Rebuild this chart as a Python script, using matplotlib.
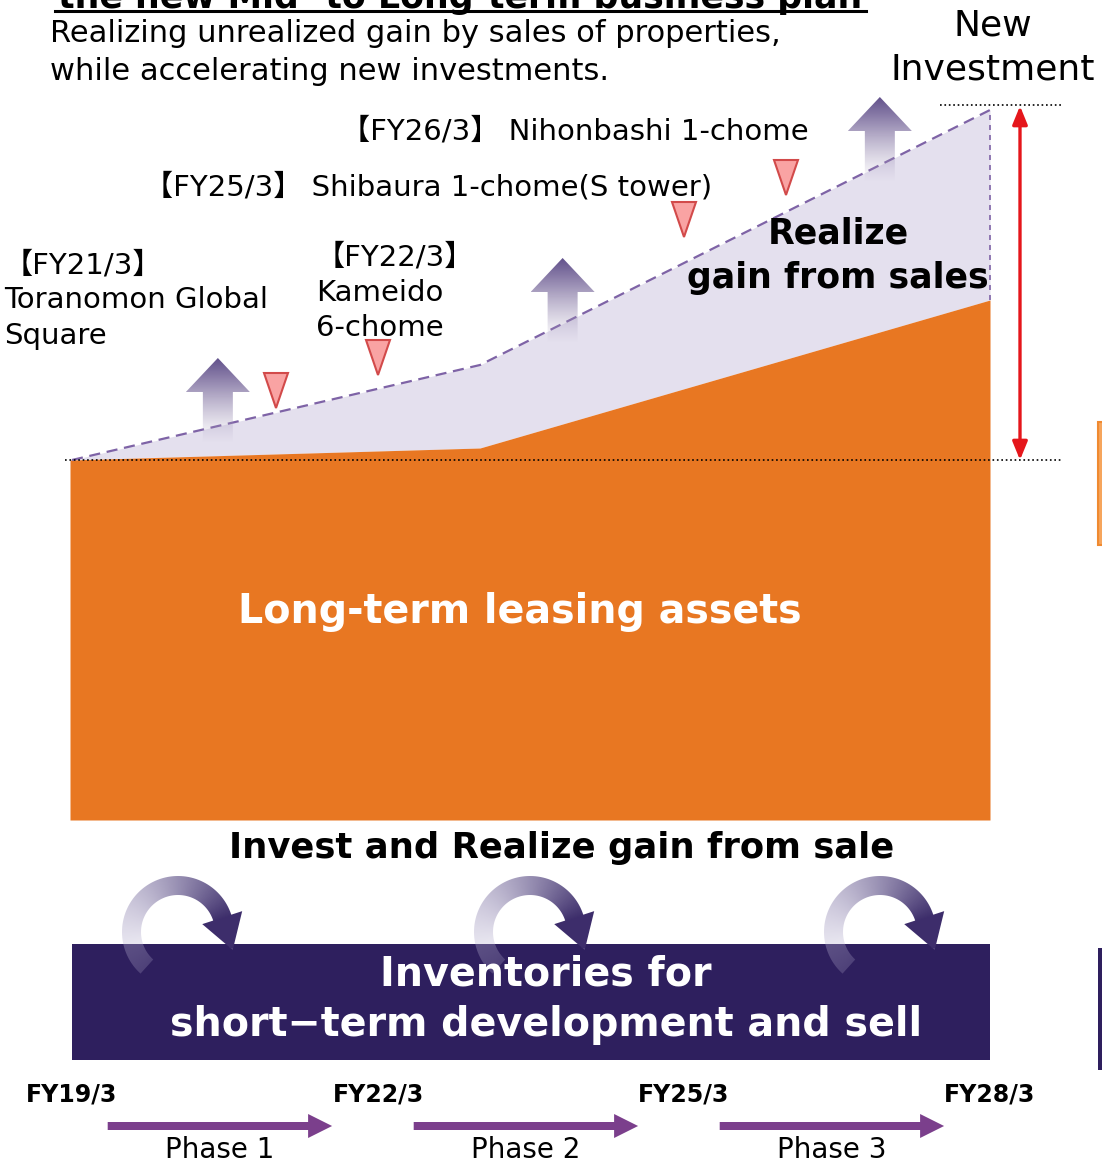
import numpy as np
import matplotlib.pyplot as plt
from matplotlib.patches import Polygon, Rectangle

plt.rcParams['font.family'] = ['DejaVu Sans', 'Noto Sans CJK JP']

# --- data (value units: leasing assets, arbitrary scale) ---
years = [19, 23, 28]
leasing = [360, 372, 520]
with_gain = [360, 455, 710]

sale_years = [21, 22, 25, 26]
sale_tips = [412, 445, 583, 625]
sale_labels = ["【FY21/3】\nToranomon Global\nSquare", "【FY22/3】\nKameido\n6-chome",
               "【FY25/3】 Shibaura 1-chome(S tower)", "【FY26/3】 Nihonbashi 1-chome"]

invest_years = [20.43, 23.81, 26.92]
invest_tops = [462, 562, 723]

phase_years = [19, 22, 25, 28]
phase_names = ["Phase 1", "Phase 2", "Phase 3"]
fy_labels = ["FY19/3", "FY22/3", "FY25/3", "FY28/3"]

ORANGE = '#e87722'
LILAC = '#e4e0ee'
DASH = '#7e63a6'
NAVY = '#2e1f5e'
PHASE = '#7b3f8c'

W, H = 1102, 1163
fig = plt.figure(figsize=(W / 100, H / 100), dpi=100)
ax = fig.add_axes([0, 0, 1, 1])
ax.axis('off')
# 1 year = 102 px, 1 value unit = 1 px
ax.set_xlim(19 - 72 / 102, 19 + (W - 72) / 102)
ax.set_ylim(820 - H, 820)


def X(px):
    return 19 + (px - 72) / 102


def Y(py):
    return 820 - py


def PX(fy):
    return 72 + (fy - 19) * 102


def PY(v):
    return 820 - v


# main areas
ax.fill_between(years, leasing, with_gain, color=LILAC, lw=0, zorder=1)
ax.fill_between([X(70)] + years[1:], 0, leasing, color=ORANGE, lw=0, zorder=2)
ax.plot(years, with_gain, ls=(0, (5, 3)), color=DASH, lw=1.6, zorder=3)
ax.plot([years[-1], years[-1]], [leasing[-1], with_gain[-1]], ls=(0, (3, 3)),
        color=DASH, lw=1.2, zorder=3)

# reference lines and red range arrow
ax.plot([X(65), X(1062)], [with_gain[0]] * 2, ls=':', color='black', lw=1.2, zorder=4)
ax.plot([X(940), X(1062)], [with_gain[-1] + 5] * 2, ls=':', color='black', lw=1.2, zorder=4)
ax.annotate('', xy=(X(1020), with_gain[-1] + 4), xytext=(X(1020), with_gain[0]),
            arrowprops=dict(arrowstyle='<|-|>,head_length=1.1,head_width=0.45',
                            color='#e5161b', lw=2.4, shrinkA=0, shrinkB=0), zorder=5)

# gradient up arrows (new investment)
for fy, top in zip(invest_years, invest_tops):
    cx, ty = PX(fy), PY(top)
    hw, hh, sw, ln = 32, 34, 15, 85
    pts = [(cx, ty), (cx + hw, ty + hh), (cx + sw, ty + hh), (cx + sw, ty + ln),
           (cx - sw, ty + ln), (cx - sw, ty + hh), (cx - hw, ty + hh)]
    poly = Polygon([(X(a), Y(b)) for a, b in pts], fc='none', lw=0)
    ax.add_patch(poly)
    n = 100
    grad = np.zeros((n, 2, 4))
    t = np.linspace(0, 1, n)
    grad[:, :, 0] = (0.36 + 0.35 * t)[:, None]
    grad[:, :, 1] = (0.29 + 0.38 * t)[:, None]
    grad[:, :, 2] = (0.53 + 0.25 * t)[:, None]
    grad[:, :, 3] = np.clip(0.95 - 0.95 * t ** 1.3, 0, 1)[:, None]
    im = ax.imshow(grad, extent=[X(cx - hw), X(cx + hw), Y(ty + ln), Y(ty)],
                   origin='upper', aspect='auto', zorder=6, interpolation='bilinear')
    im.set_clip_path(poly)

# sale markers (down triangles)
for fy, tip in zip(sale_years, sale_tips):
    ax.fill([fy - 12 / 102, fy + 12 / 102, fy], [tip + 35, tip + 35, tip],
            fc='#f9a3a3', ec='#d24a4a', lw=1.5, zorder=7)

# sale labels
lab_kw = dict(fontsize=21, color='black', zorder=8, va='center')
for i, line in enumerate(sale_labels[0].split('\n')):
    ax.text(X(4), Y(265 + 35.5 * i), line, ha='left', **lab_kw)
for i, line in enumerate(sale_labels[1].split('\n')):
    ax.text(X(316), Y(258 + 35 * i), line, ha='left', **lab_kw)
ax.text(X(144), Y(187), sale_labels[2], ha='left', **lab_kw)
ax.text(X(341), Y(132), sale_labels[3], ha='left', **lab_kw)

ax.text(X(838), Y(233), "Realize", ha='center', va='center', fontsize=25,
        fontweight='bold', zorder=8)
ax.text(X(838), Y(278), "gain from sales", ha='center', va='center', fontsize=25,
        fontweight='bold', zorder=8)
ax.text(X(520), Y(612), "Long-term leasing assets", ha='center', va='center',
        fontsize=28.5, fontweight='bold', color='white', zorder=8)

# header
ax.text(X(460), Y(8), "the new Mid- to Long-term business plan", ha='center',
        va='baseline', fontsize=25, fontweight='bold', zorder=8)
ax.plot([X(55), X(866)], [Y(11), Y(11)], color='black', lw=2.2, zorder=8)
ax.text(X(50), Y(33), "Realizing unrealized gain by sales of properties,",
        ha='left', va='center', fontsize=22, zorder=8)
ax.text(X(50), Y(72), "while accelerating new investments.",
        ha='left', va='center', fontsize=22, zorder=8)
ax.text(X(993), Y(25), "New", ha='center', va='center', fontsize=26, zorder=8)
ax.text(X(993), Y(70), "Investment", ha='center', va='center', fontsize=26, zorder=8)

# invest and realize
ax.text(X(562), Y(848), "Invest and Realize gain from sale", ha='center',
        va='center', fontsize=25.5, fontweight='bold', zorder=8)

# inventories box
ax.add_patch(Rectangle((X(72), Y(1060)), X(990) - X(72), 116, fc=NAVY, lw=0, zorder=2))
ax.text(X(546), Y(975), "Inventories for", ha='center', va='center', fontsize=28.5,
        fontweight='bold', color='white', zorder=9)
ax.text(X(546), Y(1025), "short\u2212term development and sell", ha='center',
        va='center', fontsize=28.5, fontweight='bold', color='white', zorder=9)

# cut-off shapes at right edge
ax.add_patch(Rectangle((X(1098), Y(545)), X(1110) - X(1098), 123, fc='#f6a55c',
                       ec='#f08a30', lw=1.5, zorder=2))
ax.add_patch(Rectangle((X(1098), Y(1070)), X(1110) - X(1098), 122, fc=NAVY,
                       lw=0, zorder=2))

# curved cycle arrows
for cx in [178, 530, 880]:
    cy = 932
    r_in, r_out, r_m = 37, 56, 46.5
    a0, a1 = np.radians(228), np.radians(18)
    th = np.linspace(a0, a1, 80)
    outer = [(cx + r_out * np.cos(a), cy - r_out * np.sin(a)) for a in th]
    inner = [(cx + r_in * np.cos(a), cy - r_in * np.sin(a)) for a in th[::-1]]
    rad = np.array([np.cos(a1), -np.sin(a1)])
    tang = np.array([np.sin(a1), np.cos(a1)])
    c = np.array([cx, cy])
    head = [tuple(c + (r_m + 21) * rad), tuple(c + r_m * rad + 34 * tang),
            tuple(c + (r_m - 21) * rad)]
    pts = outer + head + inner
    poly = Polygon([(X(a), Y(b)) for a, b in pts], fc='none', lw=0)
    ax.add_patch(poly)
    half = 90
    gx, gy = np.meshgrid(np.arange(cx - half, cx + half), np.arange(cy - half, cy + half))
    ang = np.arctan2(-(gy - cy), gx - cx)
    s = (a0 - ang) % (2 * np.pi)
    t = np.clip(s / (a0 - a1), 0, 1)
    t[s > (a0 - a1) + 0.6] = 0
    img = np.zeros(gx.shape + (4,))
    img[..., 0] = 0.82 - 0.58 * t
    img[..., 1] = 0.80 - 0.62 * t
    img[..., 2] = 0.90 - 0.48 * t
    img[..., 3] = 0.2 + 0.8 * t
    im = ax.imshow(img, extent=[X(cx - half), X(cx + half), Y(cy + half), Y(cy - half)],
                   origin='upper', aspect='auto', zorder=8, interpolation='bilinear')
    im.set_clip_path(poly)

# timeline
for fy, lab in zip(phase_years, fy_labels):
    ax.text(fy, Y(1094), lab, ha='center', va='center', fontsize=17,
            fontweight='bold', zorder=8)
for p0, p1, name in zip(phase_years[:-1], phase_years[1:], phase_names):
    xs, xe = PX(p0 + 0.35), PX(p1 - 0.45)
    yc = 1126
    pts = [(xs, yc - 4), (xe - 24, yc - 4), (xe - 24, yc - 12), (xe, yc),
           (xe - 24, yc + 12), (xe - 24, yc + 4), (xs, yc + 4)]
    ax.fill([X(a) for a, b in pts], [Y(b) for a, b in pts], color=PHASE, lw=0, zorder=8)
    ax.text(X((xs + xe) / 2), Y(1150), name, ha='center', va='center', fontsize=20,
            zorder=8)

fig.savefig('out.png', dpi=100)
